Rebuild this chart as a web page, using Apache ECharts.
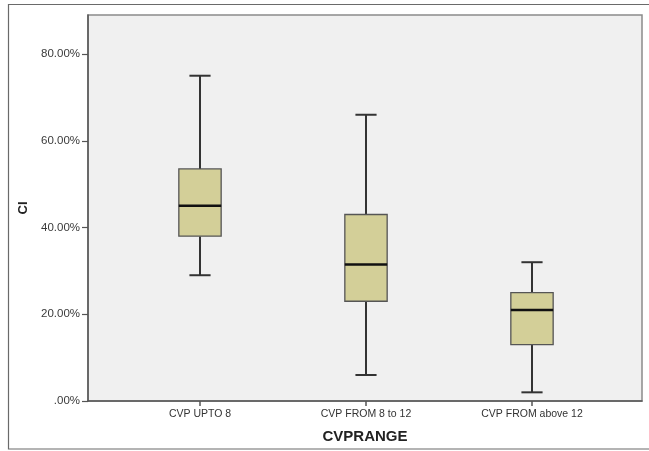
<!DOCTYPE html>
<html>
<head>
<meta charset="utf-8">
<style>html,body{margin:0;padding:0;background:#fff}#c{width:649px;height:451px}</style>
<script src="https://cdn.jsdelivr.net/npm/echarts@6/dist/echarts.min.js"></script>
</head>
<body>
<div id="c"></div>
<script>
const categories = ['CVP UPTO 8', 'CVP FROM 8 to 12', 'CVP FROM above 12'];
const mins    = [29, 6, 2];
const q1s     = [38, 23, 13];
const medians = [45, 31.5, 21];
const q3s     = [53.5, 43, 25];
const maxs    = [75, 66, 32];
const yTicks  = [0, 20, 40, 60, 80];

const chart = echarts.init(document.getElementById('c'), null, {renderer: 'canvas'});
const boxData = categories.map((c, i) => [i, mins[i], q1s[i], medians[i], q3s[i], maxs[i]]);
const fmt = v => (v === 0 ? '.00' : v.toFixed(2)) + '%';

chart.setOption({
  animation: false,
  backgroundColor: '#fff',
  graphic: [{
    type: 'rect', shape: {x: 8.5, y: 4.5, width: 660, height: 444.5},
    style: {fill: 'none', stroke: '#6a6a6a', lineWidth: 1.2}, silent: true, z: -10
  }],
  grid: [
    {left: 88, right: 7, top: 15, bottom: 50, show: true, backgroundColor: '#f0f0f0', borderColor: '#8a8a8a', borderWidth: 1.5},
    {left: 117, right: 34, top: 15, bottom: 50}
  ],
  xAxis: [
    {gridIndex: 0, type: 'value', min: 0, max: 1, show: true,
     axisLine: {show: true, lineStyle: {color: '#555', width: 1.5}},
     axisTick: {show: false}, axisLabel: {show: false}, splitLine: {show: false},
     name: 'CVPRANGE', nameLocation: 'middle', nameGap: 28,
     nameTextStyle: {fontFamily: 'Liberation Sans, Arial, sans-serif', fontWeight: 'bold', fontSize: 15, color: '#222'}},
    {gridIndex: 1, type: 'category', data: categories, boundaryGap: true,
     axisLine: {show: false},
     axisTick: {show: true, alignWithLabel: true, length: 5, lineStyle: {color: '#555', width: 1.5}},
     axisLabel: {fontFamily: 'Liberation Sans, Arial, sans-serif', fontSize: 10.5, color: '#333', margin: 8},
     splitLine: {show: false}}
  ],
  yAxis: [
    {gridIndex: 0, type: 'value', min: 0, max: 89,
     axisLine: {show: true, lineStyle: {color: '#555', width: 1.5}},
     axisTick: {show: true, length: 6, customValues: yTicks, lineStyle: {color: '#555', width: 1.2}},
     axisLabel: {customValues: yTicks, formatter: fmt, fontFamily: 'Liberation Sans, Arial, sans-serif', fontSize: 11.5, color: '#3a3a3a', margin: 8},
     splitLine: {show: false},
     name: 'CI', nameLocation: 'middle', nameGap: 58, nameRotate: 90,
     nameTextStyle: {fontFamily: 'Liberation Sans, Arial, sans-serif', fontWeight: 'bold', fontSize: 13, color: '#222'}},
    {gridIndex: 1, type: 'value', min: 0, max: 89, show: false}
  ],
  series: [{
    type: 'custom',
    xAxisIndex: 1, yAxisIndex: 1,
    data: boxData,
    encode: {x: 0, y: [1, 2, 3, 4, 5]},
    renderItem: function (params, api) {
      const idx = api.value(0);
      const pMin = api.coord([idx, api.value(1)]);
      const pQ1 = api.coord([idx, api.value(2)]);
      const pMed = api.coord([idx, api.value(3)]);
      const pQ3 = api.coord([idx, api.value(4)]);
      const pMax = api.coord([idx, api.value(5)]);
      const band = api.size([1, 0])[0];
      const bw = band * 0.255;
      const cw = bw * 0.5;
      const x = pMin[0];
      const lineStyle = {stroke: '#333', lineWidth: 2, fill: 'none'};
      return {
        type: 'group',
        children: [
          {type: 'line', shape: {x1: x, y1: pMax[1], x2: x, y2: pQ3[1]}, style: lineStyle},
          {type: 'line', shape: {x1: x, y1: pQ1[1], x2: x, y2: pMin[1]}, style: lineStyle},
          {type: 'line', shape: {x1: x - cw / 2, y1: pMax[1], x2: x + cw / 2, y2: pMax[1]}, style: lineStyle},
          {type: 'line', shape: {x1: x - cw / 2, y1: pMin[1], x2: x + cw / 2, y2: pMin[1]}, style: lineStyle},
          {type: 'rect', shape: {x: x - bw / 2, y: pQ3[1], width: bw, height: pQ1[1] - pQ3[1]},
           style: {fill: '#d3cf98', stroke: '#555', lineWidth: 1.3}},
          {type: 'line', shape: {x1: x - bw / 2, y1: pMed[1], x2: x + bw / 2, y2: pMed[1]},
           style: {stroke: '#111', lineWidth: 2.5}}
        ]
      };
    }
  }]
});
</script>
</body>
</html>
